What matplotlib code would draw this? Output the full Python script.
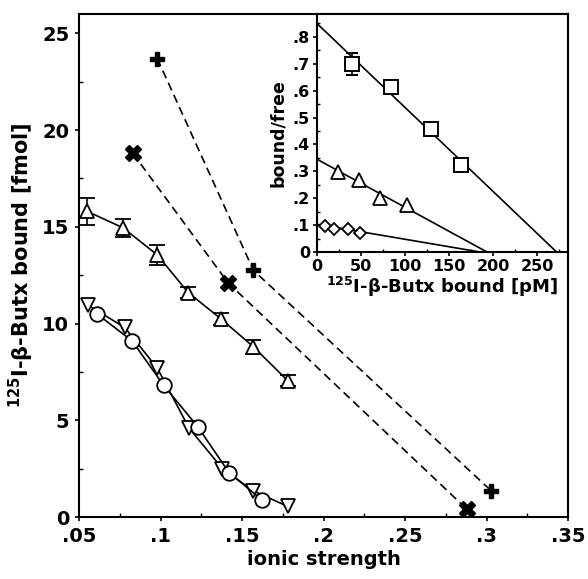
import matplotlib
matplotlib.use("Agg")
import matplotlib.pyplot as plt
from matplotlib.ticker import MultipleLocator, FuncFormatter

plt.rcParams['font.family'] = ['DejaVu Sans']
plt.rcParams['font.weight'] = 'bold'
plt.rcParams['mathtext.fontset'] = 'dejavusans'

# ---- main plot data ----
tri_up_x = [0.055, 0.077, 0.098, 0.117, 0.137, 0.157, 0.178]
tri_up_y = [15.8, 14.95, 13.55, 11.6, 10.25, 8.8, 7.05]
tri_up_err = [0.7, 0.45, 0.5, 0.3, 0.3, 0.35, 0.28]

tri_dn_x = [0.0555, 0.078, 0.098, 0.1175, 0.138, 0.157, 0.178]
tri_dn_y = [10.95, 9.8, 7.7, 4.6, 2.5, 1.35, 0.55]

circ_x = [0.061, 0.0826, 0.102, 0.123, 0.142, 0.162]
circ_y = [10.5, 9.1, 6.8, 4.65, 2.3, 0.9]

plus_x = [0.098, 0.157, 0.303]
plus_y = [23.7, 12.75, 1.35]

cross_x = [0.083, 0.1415, 0.288]
cross_y = [18.8, 12.1, 0.4]

# ---- inset data ----
sq_x = [40, 84, 129, 164]
sq_y = [0.699, 0.614, 0.456, 0.323]
sq_err = [0.04, 0.015, 0.0, 0.0]
sq_fit_x = [0, 272]
sq_fit_y = [0.85, 0.0]

itri_x = [24, 48, 72, 102]
itri_y = [0.299, 0.268, 0.2, 0.175]
itri_fit_x = [0, 193]
itri_fit_y = [0.345, 0.0]

dia_x = [9, 19, 35, 49]
dia_y = [0.098, 0.085, 0.086, 0.072]
dia_fit_x = [0, 185]
dia_fit_y = [0.103, 0.0]

fig = plt.figure(figsize=(5.88, 5.79), dpi=100)
ax = fig.add_axes([0.1344, 0.107, 0.8316, 0.8688])

lw = 1.2
ax.errorbar(tri_up_x, tri_up_y, yerr=tri_up_err, fmt='-', marker='^', ms=10,
            mfc='white', mec='black', color='black', lw=lw, capsize=5.5,
            elinewidth=1.2, capthick=1.5, mew=1.3, zorder=3)
ax.plot(tri_dn_x, tri_dn_y, '-', marker='v', ms=10, mfc='white', mec='black',
        color='black', lw=lw, mew=1.3, zorder=3)
ax.plot(circ_x, circ_y, '-', marker='o', ms=10.5, mfc='white', mec='black',
        color='black', lw=lw, mew=1.3, zorder=4)
ax.plot(plus_x, plus_y, linestyle=(0, (5, 3)), marker='P', ms=10, mfc='black',
        mec='black', color='black', lw=lw, zorder=3)
ax.plot(cross_x, cross_y, linestyle=(0, (5, 3)), marker='X', ms=12, mfc='black',
        mec='black', color='black', lw=lw, zorder=3)

ax.set_xlim(0.05, 0.35)
ax.set_ylim(0, 26)
ax.xaxis.set_major_locator(MultipleLocator(0.05))
ax.xaxis.set_minor_locator(MultipleLocator(0.025))
ax.yaxis.set_major_locator(MultipleLocator(5))
ax.yaxis.set_minor_locator(MultipleLocator(2.5))

def fmt_dec(v, pos):
    s = ('%.3f' % v).rstrip('0').rstrip('.')
    if s.startswith('0.'):
        s = s[1:]
    return s

ax.xaxis.set_major_formatter(FuncFormatter(fmt_dec))
ax.tick_params(which='major', direction='out', length=3, width=1.2,
               labelsize=14, pad=4)
ax.tick_params(which='minor', direction='in', length=3, width=1.0)
for lab in ax.get_xticklabels() + ax.get_yticklabels():
    lab.set_fontweight('bold')
for sp in ax.spines.values():
    sp.set_linewidth(1.5)

ax.set_xlabel('ionic strength', fontsize=14, fontweight='bold', labelpad=3)
ax.set_ylabel(r'$^{\mathbf{125}}$I-β-Butx bound [fmol]', fontsize=15,
              fontweight='bold', labelpad=4)

# ---- inset ----
ins = fig.add_axes([0.539, 0.5648, 0.427, 0.411])
ins.plot(sq_fit_x, sq_fit_y, '-', color='black', lw=lw)
ins.plot(itri_fit_x, itri_fit_y, '-', color='black', lw=lw)
ins.plot(dia_fit_x, dia_fit_y, '-', color='black', lw=lw)
ins.errorbar(sq_x, sq_y, yerr=sq_err, fmt='none', ecolor='black',
             elinewidth=1.2, capsize=4.5, capthick=1.5, zorder=3)
ins.plot(sq_x, sq_y, 's', ms=10, mfc='white', mec='black', mew=1.4, zorder=4)
ins.plot(itri_x, itri_y, '^', ms=10, mfc='white', mec='black', mew=1.3, zorder=4)
ins.plot(dia_x, dia_y, 'D', ms=6.5, mfc='white', mec='black', mew=1.3, zorder=4)

ins.set_xlim(0, 285)
ins.set_ylim(0, 0.885)
ins.xaxis.set_major_locator(MultipleLocator(50))
ins.xaxis.set_minor_locator(MultipleLocator(25))
ins.yaxis.set_major_locator(MultipleLocator(0.1))
ins.yaxis.set_minor_locator(MultipleLocator(0.05))
ins.yaxis.set_major_formatter(FuncFormatter(fmt_dec))
ins.tick_params(which='major', direction='out', length=3, width=1.2,
                labelsize=11.5, pad=2)
ins.tick_params(which='minor', direction='in', length=2.5, width=1.0)
for lab in ins.get_xticklabels() + ins.get_yticklabels():
    lab.set_fontweight('bold')
for sp in ins.spines.values():
    sp.set_linewidth(1.5)
ins.set_xlabel(r'$^{\mathbf{125}}$I-β-Butx bound [pM]', fontsize=13,
               fontweight='bold', labelpad=1)
ins.set_ylabel('bound/free', fontsize=12.5, fontweight='bold', labelpad=4)

fig.savefig('out.png', dpi=100)
